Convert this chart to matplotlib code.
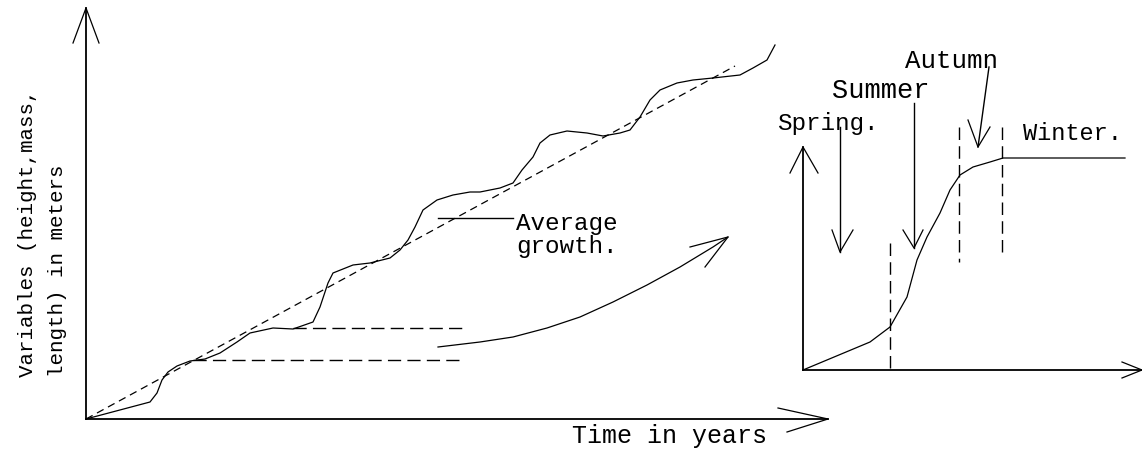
import matplotlib.pyplot as plt

plt.rcParams['font.family'] = ['Liberation Mono', 'DejaVu Sans Mono']

# sketch is laid out in pixel units of a 1142 x 461 canvas (y grows downward)

# wavy growth curve
growth_x = [86, 150, 157, 162, 168, 177, 190, 205, 220, 237, 250, 273, 293, 313, 320, 328, 333,
            353, 370, 390, 400, 408, 415, 423, 437, 453, 470, 480, 500, 513, 522, 533, 540, 550,
            567, 587, 603, 620, 630, 640, 650, 660, 677, 693, 713, 740, 753, 767, 775]
growth_y = [419, 402, 393, 380, 372, 366, 361, 359, 353, 342, 333, 328, 329, 322, 307, 283, 273,
            265, 263, 258, 250, 240, 227, 210, 200, 195, 192, 192, 188, 183, 170, 157, 143, 135,
            131, 133, 136, 133, 130, 117, 100, 90, 83, 80, 78, 75, 68, 60, 45]

# average growth (dashed straight line)
avg_x = [86, 735]
avg_y = [419, 66]

# two horizontal dashed guides
guide_y = [328, 360]
guide_x0 = [293, 193]
guide_x1 = [465, 463]

# curved arrow pointing to the inset
link_x = [438, 480, 513, 547, 580, 613, 647, 680, 713, 728]
link_y = [347, 342, 337, 328, 317, 302, 285, 267, 247, 237]

# seasonal growth inset curve
season_x = [803, 870, 890, 907, 917, 927, 940, 950, 960, 973, 990, 1003, 1125]
season_y = [370, 342, 327, 297, 260, 237, 213, 190, 175, 167, 162, 158, 158]

# season boundaries (dashed verticals)
bound_x = [890, 959, 1002]
bound_top = [243, 127, 127]
bound_bottom = [370, 262, 253]

seasons = ['Spring.', 'Summer', 'Autumn', 'Winter.']

fig = plt.figure(figsize=(11.42, 4.61), dpi=100)
ax = fig.add_axes([0, 0, 1, 1])
ax.set_xlim(0, 1142)
ax.set_ylim(461, 0)
ax.axis('off')

k = 'black'


def open_arrow(tail, tip, w1, w2, lw=1.0):
    ax.plot([tail[0], tip[0]], [tail[1], tip[1]], color=k, lw=lw)
    ax.plot([w1[0], tip[0], w2[0]], [w1[1], tip[1], w2[1]], color=k, lw=0.9)


# main axes
open_arrow((86, 419), (86, 8), (73, 43), (99, 43), lw=1.3)
open_arrow((86, 419), (828, 419), (778, 408), (787, 432), lw=1.3)

ax.plot(growth_x, growth_y, color=k, lw=0.9)
ax.plot(avg_x, avg_y, color=k, lw=0.9, dashes=(6, 4))
for y, x0, x1 in zip(guide_y, guide_x0, guide_x1):
    ax.plot([x0, x1], [y, y], color=k, lw=1.0, dashes=(9.5, 4.5))

ax.plot(link_x, link_y, color=k, lw=0.9)
ax.plot([690, 728, 705], [247, 237, 267], color=k, lw=0.9)

# pointer to the average line
ax.plot([438, 513], [218, 218], color=k, lw=1.0)
ax.text(516, 230, 'Average', fontsize=17.5, va='baseline', ha='left')
ax.text(516, 253, 'growth.', fontsize=17.5, va='baseline', ha='left')

ax.text(572, 443, 'Time in years', fontsize=18, va='baseline', ha='left')

ax.text(33, 377, 'Variables (height,mass,', fontsize=15, rotation=90,
        rotation_mode='anchor', ha='left', va='baseline')
ax.text(63, 377, 'length) in meters', fontsize=15, rotation=90,
        rotation_mode='anchor', ha='left', va='baseline')

# inset axes
open_arrow((803, 370), (803, 147), (790, 173), (818, 173), lw=1.3)
open_arrow((803, 370), (1142, 370), (1122, 362), (1122, 378), lw=1.3)

ax.plot(season_x, season_y, color=k, lw=0.9)
for x, t, b in zip(bound_x, bound_top, bound_bottom):
    ax.plot([x, x], [t, b], color=k, lw=1.0, dashes=(9, 4.5))

# season arrows
open_arrow((840, 127), (840, 252), (832, 230), (853, 230))
open_arrow((914, 103), (914, 248), (903, 230), (923, 230))
open_arrow((989, 67), (978, 147), (968, 120), (990, 127))

ax.text(777, 130, seasons[0], fontsize=17.5, va='baseline', ha='left')
ax.text(832, 98, seasons[1], fontsize=19.5, va='baseline', ha='left')
ax.text(905, 68, seasons[2], fontsize=18.5, va='baseline', ha='left')
ax.text(1023, 140, seasons[3], fontsize=17, va='baseline', ha='left')

fig.savefig('out.png', dpi=100)
